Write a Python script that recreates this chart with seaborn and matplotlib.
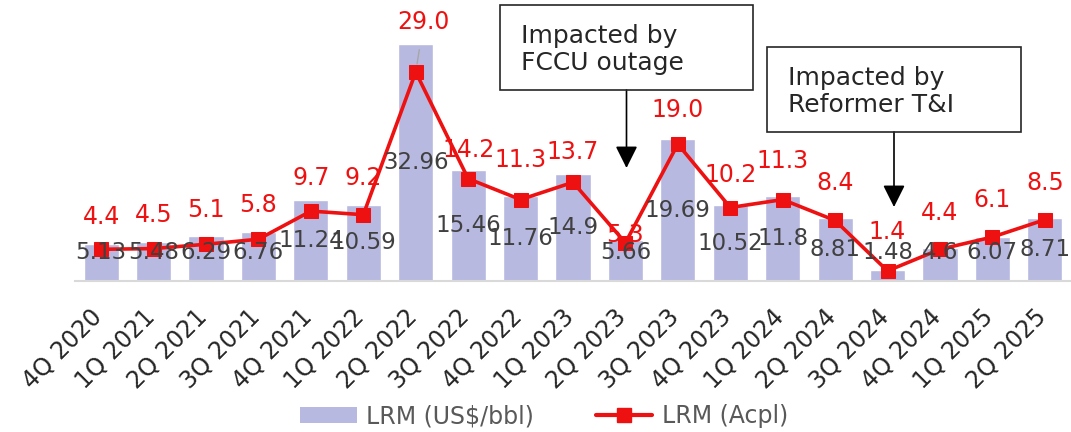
import numpy as np
import pandas as pd
import matplotlib
matplotlib.use("Agg")
import matplotlib.pyplot as plt
import matplotlib.transforms as mtransforms
import seaborn as sns
from matplotlib.patches import Rectangle, Patch
from matplotlib.lines import Line2D

# данные
quarters = ["4Q 2020", "1Q 2021", "2Q 2021", "3Q 2021", "4Q 2021", "1Q 2022", "2Q 2022",
            "3Q 2022", "4Q 2022", "1Q 2023", "2Q 2023", "3Q 2023", "4Q 2023", "1Q 2024",
            "2Q 2024", "3Q 2024", "4Q 2024", "1Q 2025", "2Q 2025"]
lrm_usd = [5.13, 5.48, 6.29, 6.76, 11.24, 10.59, 32.96, 15.46, 11.76, 14.9, 5.66,
           19.69, 10.52, 11.8, 8.81, 1.48, 4.6, 6.07, 8.71]
lrm_acpl = [4.4, 4.5, 5.1, 5.8, 9.7, 9.2, 29.0, 14.2, 11.3, 13.7, 5.3,
            19.0, 10.2, 11.3, 8.4, 1.4, 4.4, 6.1, 8.5]
usd_labels = ["5.13", "5.48", "6.29", "6.76", "11.24", "10.59", "32.96", "15.46", "11.76", "14.9",
              "5.66", "19.69", "10.52", "11.8", "8.81", "1.48", "4.6", "6.07", "8.71"]

# подъём красных подписей над маркером, в пикселях
acpl_lift = [32, 34, 34, 34, 33, 37, 50, 29, 40, 30, 8, 34, 33, 39, 37, 39, 36, 37, 37]

BAR_COLOR = "#B8B9E0"
RED = "#EE1111"
W, H = 1071, 432

sns.set_theme(style="white")
plt.rcParams["font.family"] = ["DejaVu Sans"]

fig = plt.figure(figsize=(W / 100, H / 100), dpi=100)
ax = fig.add_axes([75 / W, 151 / H, 996 / W, 281 / H])

df = pd.DataFrame({"quarter": quarters, "usd": lrm_usd, "acpl": lrm_acpl})

sns.barplot(data=df, x="quarter", y="usd", color=BAR_COLOR, saturation=1, width=0.67, ax=ax)
sns.lineplot(x=np.arange(len(df)), y=df["acpl"], color=RED, lw=2.6, marker="s",
             markersize=10, markeredgecolor=RED, ax=ax)

ax.set_xlim(-0.5, len(df) - 0.5)
ax.set_ylim(0, 39)
ax.set_xlabel("")
ax.set_ylabel("")
ax.set_yticks([])
for side in ["left", "right", "top"]:
    ax.spines[side].set_visible(False)
ax.spines["bottom"].set_color("#d9d9d9")
ax.spines["bottom"].set_linewidth(1.5)
ax.tick_params(axis="x", length=0, pad=17)
shift = mtransforms.ScaledTranslation(6 / 100, 0, fig.dpi_scale_trans)
for lab in ax.get_xticklabels():
    lab.set_rotation(45)
    lab.set_ha("right")
    lab.set_fontsize(17)
    lab.set_color("#262626")
    lab.set_transform(lab.get_transform() + shift)

# подписи столбцов
for i, (v, lab) in enumerate(zip(lrm_usd, usd_labels)):
    ax.text(i, max(v / 2, 3.9), lab, ha="center", va="center", fontsize=16.5, color="#404040")

# подписи линии
for i, v in enumerate(lrm_acpl):
    if i == 6:
        ax.annotate(f"{v:.1f}", xy=(i, v), xytext=(8, acpl_lift[i]), textcoords="offset pixels",
                    ha="center", va="center", fontsize=17, color=RED,
                    arrowprops=dict(arrowstyle="-", color="#a6a6a6", lw=1, shrinkA=9, shrinkB=6))
    else:
        ax.annotate(f"{v:.1f}", xy=(i, v), xytext=(0, acpl_lift[i]), textcoords="offset pixels",
                    ha="center", va="center", fontsize=17, color=RED)


def px(x, y):
    return x / W, 1 - y / H


def callout(text, x0, y0, x1, y1, tip_y):
    fig.add_artist(Rectangle(px(x0, y1), (x1 - x0) / W, (y1 - y0) / H, transform=fig.transFigure,
                             fill=False, edgecolor="#262626", lw=1.2))
    fig.text(*px(x0 + 21, (y0 + y1) / 2 + 2), text, ha="left", va="center", fontsize=18,
             color="#262626", linespacing=1.2)
    cx = (x0 + x1) / 2
    ax.annotate("", xy=px(cx, tip_y), xycoords="figure fraction",
                xytext=px(cx, y1), textcoords="figure fraction",
                arrowprops=dict(arrowstyle="-|>,head_length=0.9,head_width=0.45", color="black",
                                lw=1.2, mutation_scale=15, shrinkA=0, shrinkB=0))


callout("Impacted by\nFCCU outage", 500, 5, 753, 90, 168)
callout("Impacted by\nReformer T&I", 767, 47, 1021, 132, 207)

handles = [Patch(facecolor=BAR_COLOR, edgecolor="none"),
           Line2D([0], [0], color=RED, lw=3, marker="s", markersize=10)]
fig.legend(handles, ["LRM (US$/bbl)", "LRM (Acpl)"], loc="lower center", bbox_to_anchor=(0.508, -0.04),
           ncol=2, frameon=False, fontsize=17, labelcolor="#595959", handlelength=2.4,
           columnspacing=2.6, handletextpad=0.4)

fig.savefig("out.png", dpi=100)
